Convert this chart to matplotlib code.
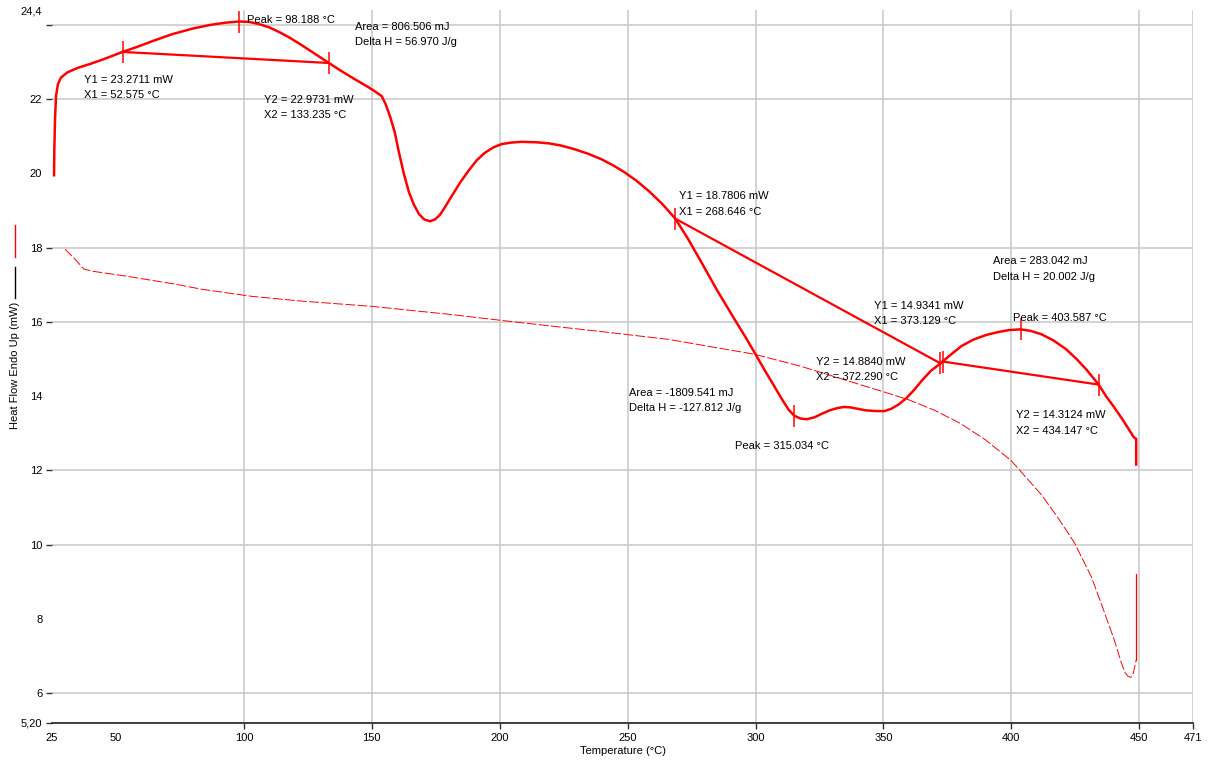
import numpy as np
import matplotlib.pyplot as plt
from matplotlib.lines import Line2D

plt.rcParams['font.family'] = ['Liberation Sans', 'DejaVu Sans']
plt.rcParams['font.size'] = 8

# heat flow of the sample run (mW) against temperature (°C)
temp_main = [25.8, 25.9, 26.2, 26.6, 27.3, 28.5, 31.0, 35.0, 40.0, 45.0, 52.575, 58.0,
             65.0, 72.0, 80.0, 87.0, 93.0, 98.188, 102.0, 106.0, 110.0, 114.0, 118.0,
             122.0, 126.0, 130.0, 133.235, 138.0, 143.0, 148.0, 151.0, 153.9, 155.5,
             157.3, 159.0, 160.5, 162.5, 164.5, 166.5, 168.5, 170.5, 172.7, 174.7,
             176.6, 178.5, 181.25, 184.5, 187.9, 191.0, 194.1, 197.5, 200.8, 204.5,
             208.6, 214.0, 219.1, 224.0, 229.3, 234.5, 239.8, 244.5, 248.8, 253.5,
             258.2, 263.5, 268.646, 273.5, 278.9, 285.0, 291.8, 296.0, 300.0, 304.0,
             307.4, 310.5, 312.9, 315.034, 317.5, 320.0, 323.0, 326.0, 329.0, 332.0,
             334.5, 337.0, 340.0, 343.0, 347.0, 350.4, 353.0, 356.0, 359.0, 362.0,
             365.0, 368.5, 372.29, 373.129, 376.5, 380.5, 385.0, 390.2, 395.0, 399.0,
             403.587, 407.5, 411.7, 416.5, 421.5, 425.5, 429.3, 434.147, 437.0, 440.0,
             443.0, 446.0, 447.8, 448.8, 448.8]
flow_main = [19.95, 20.6, 21.5, 22.1, 22.4, 22.58, 22.72, 22.84, 22.95, 23.07, 23.2711, 23.4,
             23.58, 23.75, 23.9, 24.0, 24.06, 24.09, 24.08, 24.02, 23.93, 23.8, 23.65,
             23.48, 23.3, 23.12, 22.9731, 22.76, 22.55, 22.35, 22.22, 22.08, 21.85,
             21.5, 21.1, 20.6, 20.0, 19.5, 19.15, 18.9, 18.76, 18.71, 18.76,
             18.88, 19.08, 19.39, 19.75, 20.08, 20.35, 20.55, 20.7, 20.79, 20.83,
             20.85, 20.84, 20.81, 20.75, 20.65, 20.53, 20.38, 20.21, 20.03, 19.8,
             19.53, 19.18, 18.7806, 18.25, 17.6, 16.85, 16.07, 15.6, 15.13, 14.65,
             14.26, 13.9, 13.64, 13.48, 13.4, 13.38, 13.43, 13.53, 13.62, 13.68,
             13.71, 13.7, 13.66, 13.62, 13.6, 13.6, 13.66, 13.78, 13.95, 14.17,
             14.42, 14.68, 14.884, 14.9341, 15.13, 15.35, 15.52, 15.65, 15.73, 15.78,
             15.80, 15.76, 15.67, 15.5, 15.26, 15.0, 14.72, 14.3124, 14.0, 13.72,
             13.42, 13.1, 12.9, 12.85, 12.16]

# second (thin) run
temp_ref = [30.1, 34.8, 37.5, 41.4, 54.3, 73.8, 83.6, 103.0, 122.7, 150.0, 181.0, 200.8,
            224.0, 239.8, 266.0, 299.6, 318.0, 341.4, 350.0, 360.0, 370.0, 380.0, 390.0,
            400.0, 411.7, 418.0, 424.6, 431.25, 436.0, 440.2, 443.0, 444.5, 445.7, 446.8,
            447.7, 448.8]
flow_ref = [17.96, 17.63, 17.42, 17.36, 17.23, 17.01, 16.88, 16.69, 16.56, 16.42, 16.2, 16.04,
            15.86, 15.74, 15.53, 15.13, 14.80, 14.3, 14.12, 13.9, 13.62, 13.27, 12.82,
            12.26, 11.35, 10.75, 10.06, 9.14, 8.25, 7.44, 6.82, 6.55, 6.45, 6.43,
            6.55, 6.9]
temp_ref_end = [448.8, 448.8]
flow_ref_end = [6.9, 9.2]

# integration limits (X1, Y1, X2, Y2)
base_x1 = [52.575, 268.646, 373.129]
base_y1 = [23.2711, 18.7806, 14.9341]
base_x2 = [133.235, 372.290, 434.147]
base_y2 = [22.9731, 14.8840, 14.3124]
peaks = [98.188, 315.034, 403.587]
areas = [806.506, -1809.541, 283.042]
delta_h = [56.970, -127.812, 20.002]

x_major = [100, 150, 200, 250, 300, 350, 400, 450, 471]
x_minor = [25, 50]
y_major = [5.2, 6, 10, 12, 16, 18, 22, 24]
y_major_labels = ['5,20', '6', '10', '12', '16', '18', '22', '']
y_minor = [8, 14, 20, 24.4]
y_minor_labels = ['8', '14', '20', '24,4']

fig = plt.figure(figsize=(12.13, 7.6), dpi=100)
ax = fig.add_axes([52/1213, 1-723/760, (1193-52)/1213, (723-10)/760])

ax.plot(temp_ref, flow_ref, color='red', lw=0.7, dashes=(10, 2.5))
ax.plot(temp_ref_end, flow_ref_end, color='red', lw=0.9)
ax.plot(temp_main, flow_main, color='red', lw=1.8, solid_joinstyle='round')

for i in range(3):
    ax.plot([base_x1[i], base_x2[i]], [base_y1[i], base_y2[i]], color='red', lw=1.6)
ax.plot(base_x1 + base_x2, base_y1 + base_y2, ls='none', marker='|', ms=16, mew=1.1, color='red')
peak_y = np.interp(peaks, temp_main, flow_main)
ax.plot(peaks, peak_y, ls='none', marker='|', ms=16, mew=1.1, color='red')

def lab(x, y, lines):
    ax.text(x, y, '\n'.join(lines), ha='left', va='center', fontsize=8, linespacing=1.7)

lab(101.2, 24.13, [f'Peak = {peaks[0]:.3f} °C'])
lab(143.4, 23.74, [f'Area = {areas[0]:.3f} mJ', f'Delta H = {delta_h[0]:.3f} J/g'])
lab(37.5, 22.31, [f'Y1 = {base_y1[0]:.4f} mW', f'X1 = {base_x1[0]:.3f} °C'])
lab(107.8, 21.77, [f'Y2 = {base_y2[0]:.4f} mW', f'X2 = {base_x2[0]:.3f} °C'])
lab(269.9, 19.17, [f'Y1 = {base_y1[1]:.4f} mW', f'X1 = {base_x1[1]:.3f} °C'])
lab(346.5, 16.23, [f'Y1 = {base_y1[2]:.4f} mW', f'X1 = {base_x1[2]:.3f} °C'])
lab(323.8, 14.72, [f'Y2 = {base_y2[1]:.4f} mW', f'X2 = {base_x2[1]:.3f} °C'])
lab(250.4, 13.88, [f'Area = {areas[1]:.3f} mJ', f'Delta H = {delta_h[1]:.3f} J/g'])
lab(291.8, 12.65, [f'Peak = {peaks[1]:.3f} °C'])
lab(393.0, 17.43, [f'Area = {areas[2]:.3f} mJ', f'Delta H = {delta_h[2]:.3f} J/g'])
lab(400.8, 16.11, [f'Peak = {peaks[2]:.3f} °C'])
lab(402.0, 13.28, [f'Y2 = {base_y2[2]:.4f} mW', f'X2 = {base_x2[2]:.3f} °C'])

ax.set_xlim(25, 471)
ax.set_ylim(5.2, 24.4)
ax.set_xticks(x_major)
ax.set_xticklabels([str(v) for v in x_major])
ax.set_xticks(x_minor, minor=True)
ax.set_xticklabels([str(v) for v in x_minor], minor=True)
ax.set_yticks(y_major)
ax.set_yticklabels(y_major_labels)
ax.set_yticks(y_minor, minor=True)
ax.set_yticklabels(y_minor_labels, minor=True)
ax.tick_params(which='major', length=4, width=1, color='#333333', pad=3, labelsize=8)
ax.tick_params(which='minor', length=0, pad=7, labelsize=8)
ax.grid(which='major', color='#c8c8c8', lw=1.1)
ax.set_axisbelow(True)
for s in ['top', 'right', 'left']:
    ax.spines[s].set_visible(False)
ax.spines['bottom'].set_color('#222222')
ax.spines['bottom'].set_linewidth(1.2)
ax.set_xlabel('Temperature (°C)', fontsize=8, labelpad=2)

# y label with the curve key drawn above it
fig.text(15/1213, 1-365/760, 'Heat Flow Endo Up (mW)', rotation=90, ha='center', va='center', fontsize=8)
fig.add_artist(Line2D([15/1213, 15/1213], [1-225/760, 1-257/760], color='red', lw=1))
fig.add_artist(Line2D([15/1213, 15/1213], [1-267/760, 1-298/760], color='black', lw=1))

fig.savefig('out.png', dpi=100)
